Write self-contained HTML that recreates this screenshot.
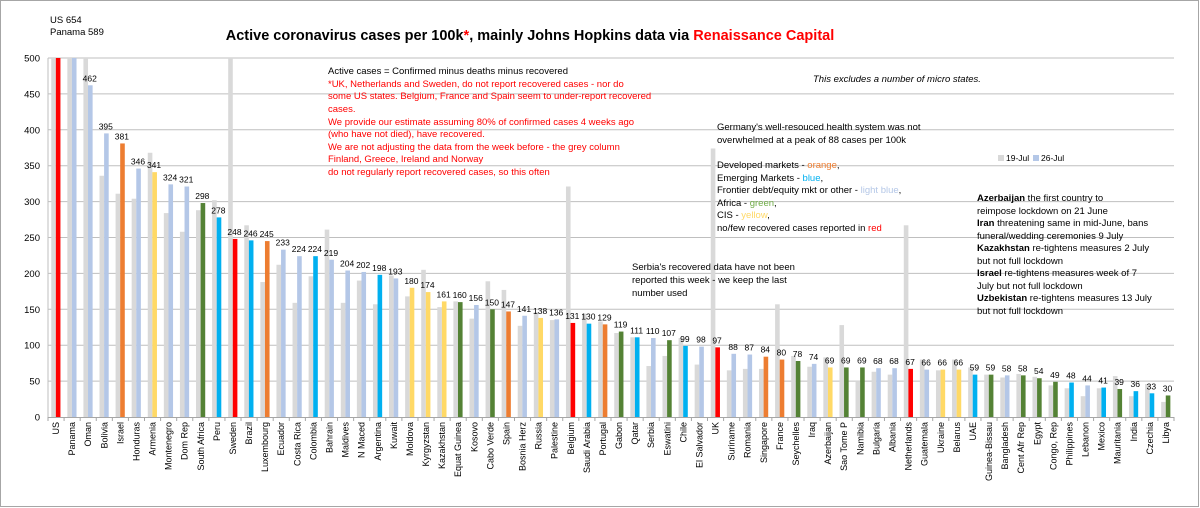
<!DOCTYPE html>
<html><head><meta charset="utf-8"><style>
body{margin:0;background:#fff;}
svg{display:block;font-family:"Liberation Sans",sans-serif;}
</style></head><body>
<svg id="chart" width="1200" height="508" viewBox="0 0 1200 508">
<rect x="0.5" y="0.5" width="1198" height="506" fill="#fff" stroke="#a6a6a6"/>
<g id="grid"></g>
<g id="bars"></g>
<g id="axes"></g>
<text x="50" y="23" font-size="9.5" fill="#000">US 654</text>
<text x="50" y="35" font-size="9.5" fill="#000">Panama 589</text>
<text x="530" y="40" font-size="14.5" font-weight="bold" text-anchor="middle">Active coronavirus cases per 100k<tspan fill="#ff0000">*</tspan>, mainly Johns Hopkins data via <tspan fill="#ff0000">Renaissance Capital</tspan></text>
<g font-size="9.5">
<text x="328" y="74" fill="#000">Active cases = Confirmed minus deaths minus recovered</text>
<text x="328" y="87" fill="#ff0000">*UK, Netherlands  and Sweden, do not report recovered cases - nor do</text>
<text x="328" y="99" fill="#ff0000">some US states. Belgium, France and Spain seem to under-report recovered</text>
<text x="328" y="112" fill="#ff0000">cases.</text>
<text x="328" y="125" fill="#ff0000">We provide our estimate assuming 80% of confirmed cases 4 weeks ago</text>
<text x="328" y="137" fill="#ff0000">(who have not died), have recovered.</text>
<text x="328" y="150" fill="#ff0000">We are not adjusting the data from the week before - the grey column</text>
<text x="328" y="162" fill="#ff0000">Finland, Greece, Ireland and Norway</text>
<text x="328" y="175" fill="#ff0000">do not regularly report recovered cases, so this often</text>
</g>
<text x="813" y="82" font-size="9.5" font-style="italic">This excludes a number of micro states.</text>
<g font-size="9.5">
<text x="717" y="130">Germany's well-resouced health system was not</text>
<text x="717" y="143">overwhelmed at a peak of 88 cases per 100k</text>
<text x="717" y="168">Developed markets - <tspan fill="#ed7d31">orange</tspan>,</text>
<text x="717" y="181">Emerging Markets - <tspan fill="#00b0f0">blue</tspan>,</text>
<text x="717" y="193">Frontier debt/equity mkt or other - <tspan fill="#b4c7e7">light blue</tspan>,</text>
<text x="717" y="206">Africa - <tspan fill="#70ad47">green</tspan>,</text>
<text x="717" y="218">CIS - <tspan fill="#ffd966">yellow</tspan>,</text>
<text x="717" y="231">no/few recovered cases reported in <tspan fill="#ff0000">red</tspan></text>
</g>
<g font-size="9.5">
<text x="632" y="270">Serbia's recovered data have not been</text>
<text x="632" y="283">reported this week - we keep the last</text>
<text x="632" y="296">number used</text>
</g>
<g font-size="9.5">
<text x="977" y="201"><tspan font-weight="bold">Azerbaijan</tspan> the first country to</text>
<text x="977" y="214">reimpose lockdown on 21 June</text>
<text x="977" y="226"><tspan font-weight="bold">Iran</tspan> threatening same in mid-June, bans</text>
<text x="977" y="239">funeral/wedding ceremonies 9 July</text>
<text x="977" y="251"><tspan font-weight="bold">Kazakhstan</tspan> re-tightens measures 2 July</text>
<text x="977" y="264">but not full lockdown</text>
<text x="977" y="276"><tspan font-weight="bold">Israel</tspan> re-tightens measures week of 7</text>
<text x="977" y="289">July but not full lockdown</text>
<text x="977" y="301"><tspan font-weight="bold">Uzbekistan</tspan> re-tightens measures 13 July</text>
<text x="977" y="314">but not full lockdown</text>
</g>
<g font-size="8.5">
<rect x="998" y="155" width="6" height="6" fill="#d9d9d9"/>
<text x="1006" y="161">19-Jul</text>
<rect x="1033" y="155" width="6" height="6" fill="#b4c7e7"/>
<text x="1041" y="161">26-Jul</text>
</g>
</svg>
<script>
const countries = ["US","Panama","Oman","Bolivia","Israel","Honduras","Armenia","Montenegro","Dom Rep","South Africa","Peru","Sweden","Brazil","Luxembourg","Ecuador","Costa Rica","Colombia","Bahrain","Maldives","N Maced","Argentina","Kuwait","Moldova","Kyrgyzstan","Kazakhstan","Equat Guinea","Kosovo","Cabo Verde","Spain","Bosnia Herz","Russia","Palestine","Belgium","Saudi Arabia","Portugal","Gabon","Qatar","Serbia","Eswatini","Chile","El Salvador","UK","Suriname","Romania","Singapore","France","Seychelles","Iraq","Azerbaijan","Sao Tome P","Namibia","Bulgaria","Albania","Netherlands","Guatemala","Ukraine","Belarus","UAE","Guinea-Bissau","Bangladesh","Cent Afr Rep","Egypt","Congo, Rep","Philippines","Lebanon","Mexico","Mauritania","India","Czechia","Libya"];
const jul19 = [520,520,520,336,311,304,368,284,258,288,302,520,267,188,212,159,196,261,159,190,157,197,168,205,153,161,137,189,177,127,146,135,321,144,133,117,111,71,85,110,73,374,65,67,67,157,85,70,83,128,50,63,59,267,80,65,80,69,59,55,60,56,44,40,29,40,57,29,46,21];
const jul26 = [654,589,462,395,381,346,341,324,321,298,278,248,246,245,233,224,224,219,204,202,198,193,180,174,161,160,156,150,147,141,138,136,131,130,129,119,111,110,107,99,98,97,88,87,84,80,78,74,69,69,69,68,68,67,66,66,66,59,59,58,58,54,49,48,44,41,39,36,33,30];
const groups = ["R","L","L","L","O","L","Y","L","L","G","B","R","B","O","L","L","B","L","L","L","B","L","Y","Y","Y","G","L","G","O","L","Y","L","R","B","O","G","B","L","G","B","L","R","L","L","O","O","G","L","Y","G","G","L","L","R","L","Y","Y","B","G","L","G","G","G","B","L","B","G","B","B","G"];
const yTicks = [0,50,100,150,200,250,300,350,400,450,500];

const groupColor = {R:"#ff0000",L:"#b4c7e7",O:"#ed7d31",Y:"#ffd966",G:"#548235",B:"#00b0f0"};
const NS="http://www.w3.org/2000/svg";
const X0=48, X1=1174, Y0=417, YT=58, YMAX=500;
const band=(X1-X0)/countries.length;
const xC=i=>X0+band*(i+0.5);
const y=v=>Y0-(Math.min(v,YMAX)/YMAX)*(Y0-YT);
function mk(tag,attrs,parent){const e=document.createElementNS(NS,tag);for(const k in attrs)e.setAttribute(k,attrs[k]);parent.appendChild(e);return e;}
const grid=document.getElementById('grid'), bars=document.getElementById('bars'), axes=document.getElementById('axes');
yTicks.forEach(t=>{
  if(t>0){const l=mk('line',{x1:X0,x2:X1,y1:y(t),y2:y(t),stroke:'#bfbfbf','stroke-width':1},grid);
  
  }
  const tx=mk('text',{x:40,y:y(t)+3.5,'font-size':9.5,'text-anchor':'end',fill:'#000'},axes);
  tx.textContent=t;
  
  
});
mk('line',{x1:X0,x2:X0,y1:YT,y2:Y0,stroke:'#bfbfbf'},axes);
const xa=mk('line',{x1:X0,x2:X1,y1:Y0+0.5,y2:Y0+0.5,stroke:'#a6a6a6'},axes);


countries.forEach((c,i)=>{
  const cx=xC(i);
  mk('line',{x1:X0+band*i,x2:X0+band*i,y1:Y0,y2:Y0+4,stroke:'#a6a6a6'},axes);
  const g=mk('rect',{x:cx-4.8,y:y(jul19[i]),width:4.6,height:Y0-y(jul19[i]),fill:'#d9d9d9'},bars);
  
  
  const b=mk('rect',{x:cx-0.2,y:y(jul26[i]),width:4.6,height:Y0-y(jul26[i]),fill:groupColor[groups[i]]},bars);
  
  
  if(jul26[i]<=YMAX){
    const lb=mk('text',{x:cx+1.5,y:y(jul26[i])-4,'font-size':8.5,'text-anchor':'middle',fill:'#000'},bars);
    lb.textContent=jul26[i];
    
    
  }
  const xl=mk('text',{x:0,y:0,'font-size':9,'text-anchor':'end',fill:'#000',transform:`translate(${cx+3},${Y0+5}) rotate(-90)`},axes);
  xl.textContent=c;
  
  
});
mk('line',{x1:X1,x2:X1,y1:Y0,y2:Y0+4,stroke:'#a6a6a6'},axes);
</script>
</body></html>
